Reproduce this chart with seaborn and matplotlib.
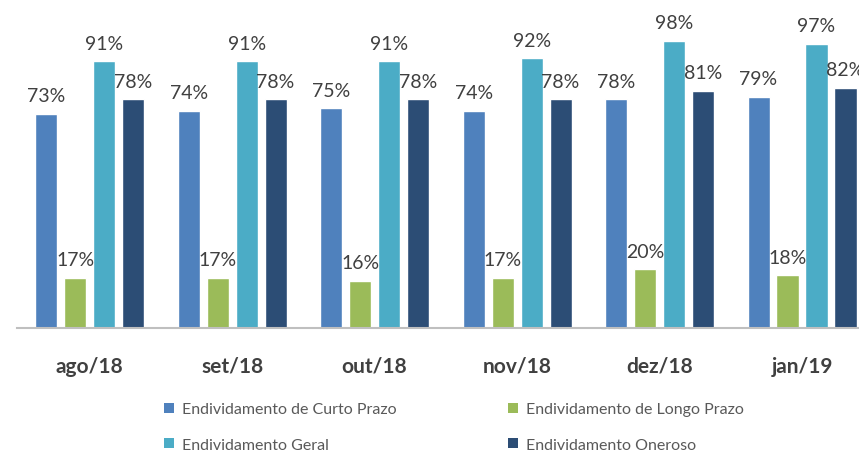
import matplotlib
matplotlib.use("Agg")
import matplotlib.pyplot as plt
from matplotlib.patches import Patch
import pandas as pd
import seaborn as sns

# chart data
months = ["ago/18", "set/18", "out/18", "nov/18", "dez/18", "jan/19"]
series = ["Endividamento de Curto Prazo", "Endividamento de Longo Prazo",
          "Endividamento Geral", "Endividamento Oneroso"]
curto_prazo = [73, 74, 75, 74, 78, 79]
longo_prazo = [17, 17, 16, 17, 20, 18]
geral = [91, 91, 91, 92, 98, 97]
oneroso = [78, 78, 78, 78, 81, 82]

colors = ["#4F81BD", "#9BBB59", "#4BACC6", "#2C4D75"]


def build_frame():
    rows = []
    for name, vals in zip(series, [curto_prazo, longo_prazo, geral, oneroso]):
        for m, v in zip(months, vals):
            rows.append({"mes": m, "serie": name, "valor": v})
    return pd.DataFrame(rows)


def plot_chart(df):
    sns.set_style("white")
    plt.rcParams["font.family"] = ["Lato", "DejaVu Sans"]

    fig = plt.figure(figsize=(8.59, 4.56), dpi=100)
    ax = fig.add_axes([17 / 859, 1 - 329 / 456, 1 - 17 / 859, 329 / 456])

    sns.barplot(data=df, x="mes", y="valor", hue="serie", hue_order=series,
                palette=colors, width=0.814, gap=0.24, ax=ax, legend=False,
                errorbar=None, saturation=1)

    for cont in ax.containers:
        ax.bar_label(cont, fmt="%d%%", padding=7, fontsize=14, color="#404040")

    ax.set_xlim(-0.51, 5.4)
    ax.set_ylim(0, 112.3)
    ax.set_xlabel("")
    ax.set_ylabel("")
    ax.set_yticks([])
    ax.tick_params(axis="x", length=0, pad=20)
    for lbl in ax.get_xticklabels():
        lbl.set_fontweight("bold")
        lbl.set_fontsize(15)
        lbl.set_color("#404040")
    for side in ["top", "right", "left"]:
        ax.spines[side].set_visible(False)
    ax.spines["bottom"].set_color("#BFBFBF")
    ax.spines["bottom"].set_linewidth(1.5)

    # legend in two columns, row-wise order as in the original
    order = [0, 2, 1, 3]
    handles = [Patch(facecolor=colors[i], edgecolor="none") for i in order]
    labels = [series[i] for i in order]
    fig.legend(handles, labels, ncol=2, loc="center left",
               bbox_to_anchor=(150 / 859, 1 - 428 / 456), frameon=False,
               fontsize=11.5, labelcolor="#595959", handlelength=0.6,
               handleheight=0.6, handletextpad=0.5, columnspacing=7.0,
               labelspacing=1.35)

    fig.savefig("out.png", dpi=100)


def main():
    df = build_frame()
    plot_chart(df)


if __name__ == "__main__":
    main()
